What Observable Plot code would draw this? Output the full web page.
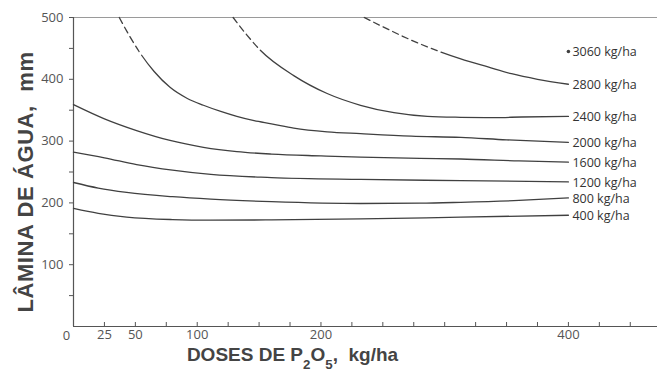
<!DOCTYPE html>
<html><head><meta charset="utf-8">
<script src="https://cdn.jsdelivr.net/npm/d3@7"></script>
<script src="https://cdn.jsdelivr.net/npm/@observablehq/plot@0.6"></script>
<style>body{margin:0;background:#fff;overflow:hidden}</style>
</head><body><div id="chart"></div>
<script>
// Curves: [dose P2O5 (kg/ha), water depth (mm)]
const c400  = [[0,191],[20,183],[43,177],[80,173],[111,172],[160,172.5],[232,174],[313,177],[400,180]];
const c800  = [[0,233],[20,224],[43,217],[80,210],[111,206],[160,202],[232,199],[280,199.5],[313,201],[360,204],[400,208]];
const c1200 = [[0,282],[25,273],[51,262],[80,253],[111,246],[160,241],[232,238],[313,236],[400,234]];
const c1600 = [[0,359],[25,336],[51,317],[78,301],[105,290],[132,283],[160,279],[200,276],[232,274],[280,272],[313,271],[360,268],[400,266]];
const c2000 = [[37,500],[45,471],[53,445],[65,413],[78,387],[92,369],[105,358],[119,348],[132,340],[146,333],[160,328],[178,321],[205,315],[232,312],[273,308],[313,306],[350,302],[400,298]];
const c2400 = [[129,500],[140,472],[151,447],[178,406],[205,377],[232,358],[259,346],[286,340],[313,338.5],[340,338],[362,339],[400,340]];
const c2800 = [[235,500],[250,485],[270,466],[297,444],[313,433],[335,420],[354,409],[375,400],[400,392]];
const p3060 = [[400,445]];
// dose where the extrapolated (dashed) part of each curve ends
const dashEnd = {"2000 kg/ha": 55, "2400 kg/ha": 151, "2800 kg/ha": 297};

const curveNames = ["400 kg/ha","800 kg/ha","1200 kg/ha","1600 kg/ha","2000 kg/ha","2400 kg/ha","2800 kg/ha"];
const curveData  = [c400, c800, c1200, c1600, c2000, c2400, c2800];
const pointName = "3060 kg/ha";

const xTickValues = [25,50,75,100,125,150,175,200,225,250,275,300,325,350,375,400,425,450];
const xLabelValues = [25,50,100,200,400];
const yLabelValues = [100,200,300,400,500];
const yMinorValues = [50,150,250,350,450];
const yTitle = "LÂMINA DE ÁGUA,  mm";
const xTitle = "DOSES DE P2O5,  kg/ha";

const ends = curveNames.map((name, i) => {
  const pts = curveData[i];
  const last = pts[pts.length - 1];
  return {x: last[0], y: last[1], name};
});
const pts3060 = p3060.map(([x, y]) => ({x, y, name: pointName}));

const W = 657, H = 373, mL = 73, mR = 0, mT = 17, mB = 47;
const frameH = H - mT - mB;
const ink = "#404040";

const lineMarks = curveNames.map((name, i) =>
  Plot.line(curveData[i].map(([x, y]) => ({x, y})), {
    x: "x", y: "y", curve: "monotone-x", stroke: ink, strokeWidth: 1.3, ariaDescription: name
  })
);

const chart = Plot.plot({
  width: W, height: H,
  marginLeft: mL, marginRight: mR, marginTop: mT, marginBottom: mB,
  x: {domain: [0, 472]},
  y: {domain: [0, 500]},
  style: {fontFamily: "Open Sans, sans-serif", fontSize: "13px", color: "#555", background: "#fff"},
  marks: [
    Plot.ruleY([500], {stroke: "#9a9a9a", strokeWidth: 1.2}),
    Plot.ruleY([0], {stroke: "#555", strokeWidth: 1.2}),
    Plot.ruleX([0], {stroke: "#555", strokeWidth: 1.2}),
    Plot.tickX(xTickValues, {x: d => d, insetTop: frameH - 4, stroke: "#555"}),
    Plot.axisY(yLabelValues, {tickSize: 4, tickPadding: 6, label: null, fontSize: 13, fill: "#555"}),
    Plot.axisY(yMinorValues, {tickSize: 4, text: null, label: null}),
    Plot.axisX(xLabelValues, {tickSize: 0, tickPadding: 3, label: null, fontSize: 13, fill: "#555"}),
    Plot.text([0], {x: d => d, y: d => d, text: d => String(d), dx: -7, dy: 9, fontSize: 13, fill: "#555"}),
    ...lineMarks,
    Plot.dot(pts3060, {x: "x", y: "y", r: 1.8, fill: ink, stroke: null}),
    Plot.text(ends.concat(pts3060), {x: "x", y: "y", text: "name", textAnchor: "start", dx: 4, dy: 1, fontSize: 12.5, fill: "#333"}),
    Plot.text([yTitle], {frameAnchor: "left", text: d => d, textAnchor: "middle", rotate: -90, dx: -48, dy: 10, fontSize: 22, fontWeight: "bold", fontFamily: "Liberation Sans, Arial, sans-serif", fill: "#444"}),
    Plot.text([xTitle], {frameAnchor: "bottom", text: d => d, dx: -73, dy: 34, fontSize: 19, fontWeight: "bold", fontFamily: "Liberation Sans, Arial, sans-serif", fill: "#444"})
  ]
});
document.getElementById("chart").appendChild(chart);

// dashed (extrapolated) start of the curves, solid afterwards
const xs = chart.scale("x");
Object.entries(dashEnd).forEach(([name, cut]) => {
  const g = chart.querySelector(`g[aria-description="${name}"]`);
  if (!g) return;
  const path = g.querySelector("path");
  const total = path.getTotalLength();
  const cutPx = xs.apply(cut);
  let lo = 0, hi = total;
  for (let k = 0; k < 40; k++) {
    const mid = (lo + hi) / 2;
    if (path.getPointAtLength(mid).x < cutPx) lo = mid; else hi = mid;
  }
  const n = Math.max(1, Math.round(lo / 10));
  const dash = 6 * lo / (n * 10), gap = 4 * lo / (n * 10);
  const arr = [];
  for (let k = 0; k < n; k++) arr.push(dash.toFixed(2), gap.toFixed(2));
  arr.push((total + 10).toFixed(1), "0");
  path.setAttribute("stroke-dasharray", arr.join(","));
});

// render the subscripts of P2O5
d3.select(chart).selectAll("text").filter(function() { return this.textContent === xTitle; }).each(function() {
  const t = d3.select(this);
  t.text(null);
  const parts = [["DOSES DE P", false], ["2", true], ["O", false], ["5", true], [",  kg/ha", false]];
  parts.forEach(([s, sub]) => {
    const ts = t.append("tspan").text(s).attr("xml:space", "preserve");
    if (sub) ts.attr("baseline-shift", "sub").attr("font-size", "70%");
  });
});
d3.select(chart).selectAll("text").filter(function() { return this.textContent === yTitle; }).attr("letter-spacing", "0.6");
</script>
</body></html>
